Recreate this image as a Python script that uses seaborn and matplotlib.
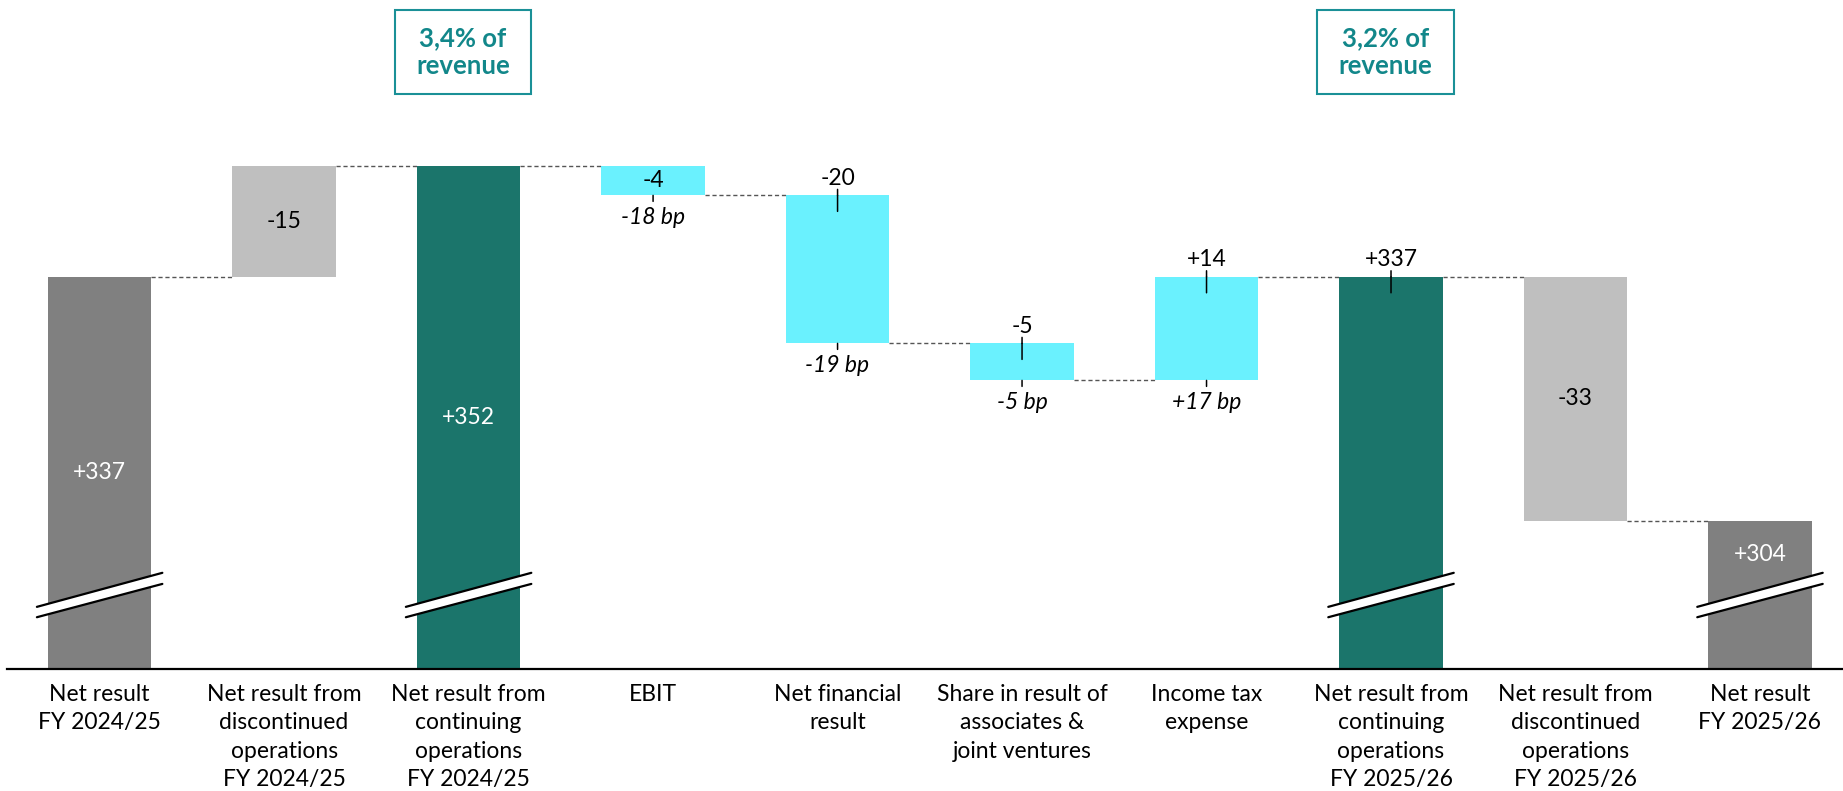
import matplotlib
matplotlib.use("Agg")
import matplotlib.pyplot as plt
from matplotlib.patches import Rectangle, Polygon
import seaborn as sns

sns.set_theme(style="white")
plt.rcParams["font.family"] = ["Lato", "DejaVu Sans"]

# --- data ---
categories = [
    "Net result\nFY 2024/25",
    "Net result from\ndiscontinued\noperations\nFY 2024/25",
    "Net result from\ncontinuing\noperations\nFY 2024/25",
    "EBIT",
    "Net financial\nresult",
    "Share in result of\nassociates &\njoint ventures",
    "Income tax\nexpense",
    "Net result from\ncontinuing\noperations\nFY 2025/26",
    "Net result from\ndiscontinued\noperations\nFY 2025/26",
    "Net result\nFY 2025/26",
]
# effect of each bar on the running total (totals reset it)
steps = [337, 15, 352, -4, -20, -5, 14, 337, -33, 304]
is_total = [True, False, True, False, False, False, False, True, False, True]
value_labels = ["+337", "-15", "+352", "-4", "-20", "-5", "+14", "+337", "-33", "+304"]
bp_labels = ["", "", "", "-18 bp", "-19 bp", "-5 bp", "+17 bp", "", "", ""]
label_pos = ["in", "in", "in", "in", "top", "top", "top", "top", "in", "in"]
bar_colors = ["#808080", "#BFBFBF", "#1B756B", "#6AF1FE", "#6AF1FE",
              "#6AF1FE", "#6AF1FE", "#1B756B", "#BFBFBF", "#808080"]
label_colors = ["white", "black", "white", "black", "black",
                "black", "black", "black", "black", "white"]
revenue_boxes = [(2, "3,4% of\nrevenue"), (7, "3,2% of\nrevenue")]

# running totals -> floating bars
bottoms, tops, levels = [], [], []
running = 0
for v, tot in zip(steps, is_total):
    if tot:
        bottoms.append(0)
        tops.append(v)
        running = v
    else:
        start, end = running, running + v
        bottoms.append(min(start, end))
        tops.append(max(start, end))
        running = end
    levels.append(running)
heights = [t - b for t, b in zip(tops, bottoms)]

Y0, Y1 = 284, 374.4
BAR_W = 0.56
FS = 16.5
TEAL = "#12878A"

fig = plt.figure(figsize=(18.43, 7.91), dpi=100)
ax = fig.add_axes([0, 0.1542, 1, 0.8458])

sns.barplot(x=categories, y=heights, bottom=bottoms, width=BAR_W,
            color="grey", saturation=1, errorbar=None, ax=ax)
for patch, c in zip(ax.patches, bar_colors):
    patch.set_facecolor(c)
    patch.set_edgecolor("none")

ax.set_xlim(-0.54, 9.45)
ax.set_ylim(Y0, Y1)
ax.set_yticks([])
ax.set_xlabel("")
ax.set_ylabel("")
for s in ["top", "left", "right"]:
    ax.spines[s].set_visible(False)
ax.spines["bottom"].set_color("black")
ax.spines["bottom"].set_linewidth(1.6)
ax.spines["bottom"].set_bounds(-0.5, 9.45)
ax.set_xticks(range(len(categories)))
ax.set_xticklabels(categories, fontsize=FS, color="black", linespacing=1.42)
ax.tick_params(axis="x", length=0, pad=11)

# dashed connectors
for i in range(len(steps) - 1):
    ax.plot([i + BAR_W / 2, i + 1 - BAR_W / 2], [levels[i], levels[i]],
            color="#555555", lw=1, ls=(0, (3, 2)), zorder=1)

tick = dict(arrowstyle="-", lw=1.1, color="black", shrinkA=0, shrinkB=0)

# value and bp labels
for i in range(len(steps)):
    top, bot = tops[i], max(bottoms[i], Y0)
    if label_pos[i] == "in":
        y = (top + bot) / 2
        if is_total[i] and top - Y0 < 30:
            y = (top + 295) / 2
        ax.text(i, y, value_labels[i], ha="center", va="center",
                fontsize=FS, color=label_colors[i], zorder=4)
    else:
        ax.annotate(value_labels[i], (i, top), xytext=(0, 17),
                    textcoords="offset pixels", ha="center", va="center",
                    fontsize=FS, color=label_colors[i])
        ax.annotate("", (i, top), xytext=(0, 6), textcoords="offset pixels",
                    arrowprops=tick)
        ax.annotate("", (i, top), xytext=(0, -16), textcoords="offset pixels",
                    arrowprops=tick)
    if bp_labels[i]:
        ax.annotate("", (i, bottoms[i]), xytext=(0, -6), textcoords="offset pixels",
                    arrowprops=tick)
        ax.annotate(bp_labels[i], (i, bottoms[i]), xytext=(0, -22),
                    textcoords="offset pixels", ha="center", va="center",
                    fontsize=FS, style="italic", color="black")

# axis break marks on total bars
for i, tot in enumerate(is_total):
    if not tot:
        continue
    xl, xr = i - 0.34, i + 0.34
    up = (292.4, 297.0)
    lo = (291.0, 295.5)
    ax.add_patch(Polygon([(xl, lo[0]), (xr, lo[1]), (xr, up[1]), (xl, up[0])],
                         closed=True, facecolor="white", edgecolor="none", zorder=3))
    ax.plot([xl, xr], [up[0], up[1]], color="black", lw=1.6, zorder=3)
    ax.plot([xl, xr], [lo[0], lo[1]], color="black", lw=1.6, zorder=3)

# revenue boxes
for idx, txt in revenue_boxes:
    cx = idx - 0.03
    ax.add_patch(Rectangle((cx - 0.37, 361.7), 0.74, 11.35, facecolor="white",
                           edgecolor="#1A9097", lw=1.5, clip_on=False, zorder=5))
    ax.text(cx, 367.4, txt, ha="center", va="center", fontsize=18.5,
            fontweight="bold", color=TEAL, linespacing=1.2, zorder=6)

fig.savefig("out.png", dpi=100)
